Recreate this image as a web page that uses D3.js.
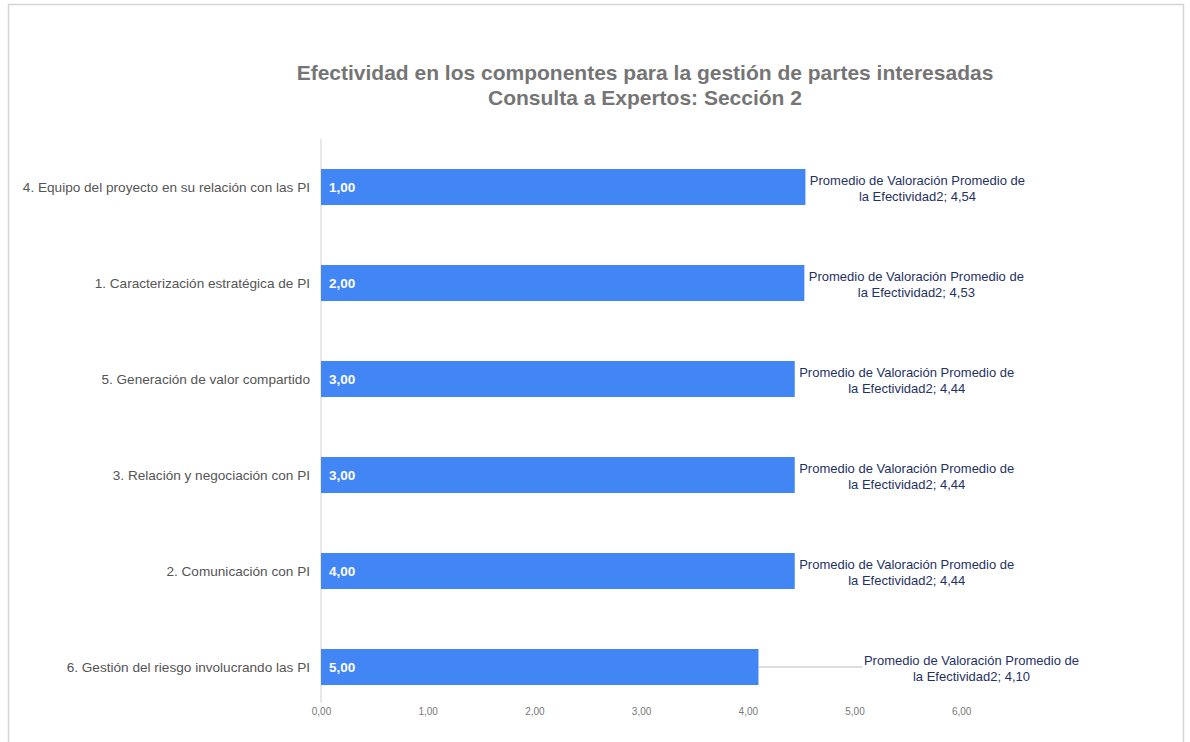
<!DOCTYPE html>
<html>
<head>
<meta charset="utf-8">
<script src="https://cdn.jsdelivr.net/npm/d3@7"></script>
<style>
  html, body { margin: 0; padding: 0; background: #fff; }
  svg { display: block; font-family: "Liberation Sans", Arial, sans-serif; }
</style>
</head>
<body>
<svg id="chart" width="1190" height="742"></svg>
<script>
// chart data
const categories = [
    '4. Equipo del proyecto en su relación con las PI',
    '1. Caracterización estratégica de PI',
    '5. Generación de valor compartido',
    '3. Relación y negociación con PI',
    '2. Comunicación con PI',
    '6. Gestión del riesgo involucrando las PI'
];
const ranks = [1, 2, 3, 3, 4, 5];
const values = [4.54, 4.53, 4.44, 4.44, 4.44, 4.10];
const tickValues = [0, 1, 2, 3, 4, 5, 6];
const titleLines = [
    'Efectividad en los componentes para la gestión de partes interesadas',
    'Consulta a Expertos: Sección 2'
];
const seriesName = 'Promedio de Valoración Promedio de';
const seriesName2 = 'la Efectividad2';

const fmt = v => d3.format('.2f')(v).replace('.', ',');

const svg = d3.select('#chart');
const W = 1190, H = 742;

// outer frame
svg.append('rect')
    .attr('x', 8.5).attr('y', 4.5)
    .attr('width', 1175).attr('height', H + 10)
    .attr('fill', '#fff')
    .attr('stroke', '#d6d6d6')
    .attr('stroke-width', 1.5);

// title
svg.append('g').selectAll('text').data(titleLines).join('text')
    .attr('x', 645)
    .attr('y', (d, i) => 80 + i * 25)
    .attr('text-anchor', 'middle')
    .attr('font-size', '21px')
    .attr('font-weight', 'bold')
    .attr('fill', '#757575')
    .text(d => d);

// scales
const x = d3.scaleLinear().domain([0, 6]).range([321, 321 + 6 * 106.7]);
const y = d3.scaleBand().domain(categories).range([139, 715])
    .paddingInner(0.625).paddingOuter(0.3125);

// axis
const xAxis = d3.axisBottom(x).tickValues(tickValues).tickFormat(fmt).tickSize(0).tickPadding(0);
const ax = svg.append('g').attr('transform', 'translate(0,708)').call(xAxis);
ax.select('.domain').remove();
ax.selectAll('text')
    .attr('font-size', '10px')
    .attr('fill', '#777')
    .attr('font-family', '"Liberation Sans", Arial, sans-serif');

// baseline
svg.append('line')
    .attr('x1', x(0)).attr('x2', x(0))
    .attr('y1', 139).attr('y2', 703)
    .attr('stroke', '#d0d0d0').attr('stroke-width', 1);

const rows = svg.append('g').selectAll('g').data(categories).join('g');

// bars
rows.append('rect')
    .attr('x', x(0))
    .attr('y', d => y(d))
    .attr('width', (d, i) => x(values[i]) - x(0))
    .attr('height', y.bandwidth())
    .attr('fill', '#4285f4');

// category labels
rows.append('text')
    .attr('x', 310)
    .attr('y', d => y(d) + y.bandwidth() / 2)
    .attr('dy', '0.35em')
    .attr('text-anchor', 'end')
    .attr('font-size', '13.6px')
    .attr('fill', '#555')
    .text(d => d);

// rank labels inside bars
rows.append('text')
    .attr('x', x(0) + 8)
    .attr('y', d => y(d) + y.bandwidth() / 2)
    .attr('dy', '0.36em')
    .attr('font-size', '13.5px')
    .attr('font-weight', 'bold')
    .attr('fill', '#fff')
    .text((d, i) => fmt(ranks[i]));

// data labels, the last one is pushed out with a leader line
const lastIdx = values.length - 1;
const labelCx = i => x(values[i]) + (i === lastIdx ? 213 : 112);

rows.filter((d, i) => i === lastIdx).append('line')
    .attr('x1', (d) => x(values[lastIdx]))
    .attr('x2', (d) => x(values[lastIdx]) + 104)
    .attr('y1', d => y(d) + y.bandwidth() / 2)
    .attr('y2', d => y(d) + y.bandwidth() / 2)
    .attr('stroke', '#bdbdbd').attr('stroke-width', 1);

const lbl = rows.append('text')
    .attr('text-anchor', 'middle')
    .attr('font-size', '13px')
    .attr('fill', '#1f3264');
lbl.append('tspan')
    .attr('x', (d, i) => labelCx(i))
    .attr('y', d => y(d) + y.bandwidth() / 2 - 2)
    .text(seriesName);
lbl.append('tspan')
    .attr('x', (d, i) => labelCx(i))
    .attr('y', d => y(d) + y.bandwidth() / 2 + 14)
    .text((d, i) => seriesName2 + '; ' + fmt(values[i]));
</script>
</body>
</html>
